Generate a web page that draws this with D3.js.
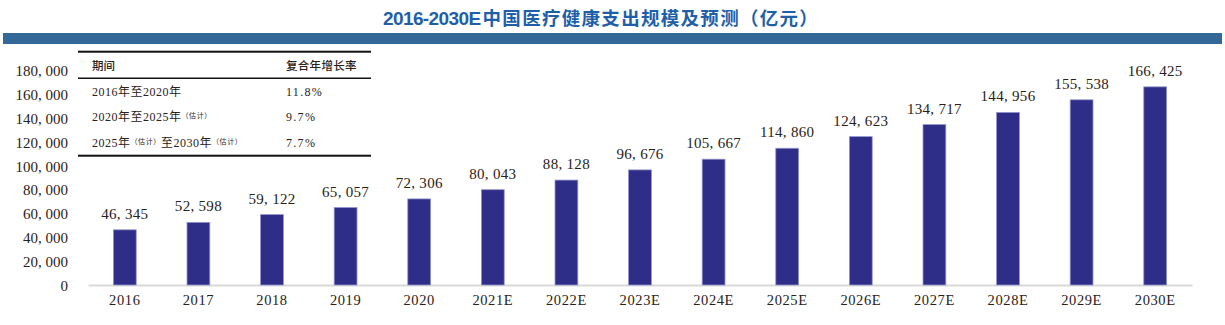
<!DOCTYPE html>
<html>
<head>
<meta charset="utf-8">
<script src="https://cdn.jsdelivr.net/npm/d3@7/dist/d3.min.js"></script>
<style>
  html, body { margin: 0; padding: 0; background: #fff; }
  svg { display: block; }
</style>
</head>
<body>
<svg id="chart" width="1225" height="325"></svg>
<script>
// Years on the category axis
const years = ["2016", "2017", "2018", "2019", "2020", "2021E", "2022E", "2023E",
  "2024E", "2025E", "2026E", "2027E", "2028E", "2029E", "2030E"];
// Health expenditure, 100 million yuan
const spending = [46345, 52598, 59122, 65057, 72306, 80043, 88128, 96676,
  105667, 114860, 124623, 134717, 144956, 155538, 166425];
// Y axis ticks
const yTicks = [0, 20000, 40000, 60000, 80000, 100000, 120000, 140000, 160000, 180000];
// CAGR table rows
const periodHeader = "期间";
const cagrHeader = "复合年增长率";
const periodParts = [
  [["2016年至2020年", false]],
  [["2020年至2025年", false], ["（估计）", true]],
  [["2025年", false], ["（估计）", true], ["至2030年", false], ["（估计）", true]]
];
const cagrValues = ["11.8%", "9.7%", "7.7%"];

const svg = d3.select("#chart");
const W = 1225;

const numFmt = v => d3.format(",")(v).replace(/,/g, ", ");
const serif = "'Liberation Serif', 'Noto Sans CJK SC', serif";
const textColor = "#2a2118";

// Title
const title = svg.append("text")
  .attr("x", 383).attr("y", 25)
  .attr("fill", "#1f5fa9")
  .attr("font-weight", "bold");
title.append("tspan")
  .attr("font-family", "'Liberation Sans', sans-serif")
  .attr("font-size", 19).attr("letter-spacing", -0.6)
  .text("2016-2030E");
title.append("tspan")
  .attr("font-family", "'Noto Sans CJK SC', sans-serif")
  .attr("font-size", 18.5).attr("letter-spacing", 1.3)
  .attr("font-weight", 600)
  .attr("dx", 2)
  .text("中国医疗健康支出规模及预测（亿元）");

// Header band
svg.append("rect")
  .attr("x", 3).attr("y", 33).attr("width", W - 6).attr("height", 11)
  .attr("fill", "#346899");

// Scales
const x = d3.scaleBand().domain(years).range([88, 1192])
  .paddingInner(0.69).paddingOuter(0.345);
const y = d3.scaleLinear().domain([0, 180000]).range([285, 70.7]);

// Y axis labels (no domain line, no ticks)
const yAxis = svg.append("g").attr("transform", "translate(68,0)")
  .call(d3.axisLeft(y).tickValues(yTicks).tickSize(0).tickPadding(0).tickFormat(numFmt));
yAxis.select(".domain").remove();
yAxis.selectAll("text")
  .attr("font-family", serif).attr("font-size", 15)
  .attr("fill", textColor).attr("dy", "0.34em");

// X axis baseline and labels
const xAxis = svg.append("g").attr("transform", "translate(0,285)")
  .call(d3.axisBottom(x).tickSize(0).tickPadding(10));
xAxis.select(".domain").attr("stroke", "#d9d9d9").attr("stroke-width", 2);
xAxis.selectAll("text")
  .attr("font-family", serif).attr("font-size", 14.5)
  .attr("letter-spacing", 0.6)
  .attr("fill", textColor);

// Bars
svg.append("g").selectAll("rect").data(spending).join("rect")
  .attr("x", (d, i) => x(years[i]))
  .attr("y", d => y(d))
  .attr("width", x.bandwidth())
  .attr("height", d => y(0) - y(d))
  .attr("fill", "#2e2e88")
  .attr("stroke", "#9494cc").attr("stroke-width", 0.8);

// Value labels
svg.append("g").selectAll("text").data(spending).join("text")
  .attr("x", (d, i) => x(years[i]) + x.bandwidth() / 2)
  .attr("y", d => y(d) - 11)
  .attr("text-anchor", "middle")
  .attr("font-family", serif).attr("font-size", 15)
  .attr("letter-spacing", 0.3)
  .attr("fill", textColor)
  .text(d => numFmt(d));

// CAGR table
const table = svg.append("g");
const tx0 = 78, tx1 = 371, col1 = 92, col2 = 286;
table.append("rect").attr("x", tx0).attr("y", 50.7).attr("width", tx1 - tx0).attr("height", 2).attr("fill", "#111");
table.append("rect").attr("x", tx0).attr("y", 77.5).attr("width", tx1 - tx0).attr("height", 1.5).attr("fill", "#111");
table.append("rect").attr("x", tx0).attr("y", 154.7).attr("width", tx1 - tx0).attr("height", 2).attr("fill", "#111");

const cjk = "'Noto Sans CJK SC', sans-serif";
table.append("text").attr("x", col1).attr("y", 69.5)
  .attr("font-family", cjk).attr("font-size", 11.5).attr("font-weight", 500)
  .attr("fill", textColor).text(periodHeader);
table.append("text").attr("x", col2).attr("y", 69.5)
  .attr("font-family", cjk).attr("font-size", 11.5).attr("font-weight", 500)
  .attr("letter-spacing", 0.3)
  .attr("fill", textColor).text(cagrHeader);

const rowY = [95.5, 120.5, 146.5];
periodParts.forEach((parts, i) => {
  const t = table.append("text").attr("x", col1).attr("y", rowY[i])
    .attr("font-family", serif).attr("fill", textColor);
  parts.forEach(([s, small]) => {
    t.append("tspan")
      .attr("font-size", small ? 7 : 12)
      .attr("baseline-shift", small ? "3" : null)
      .attr("font-family", small ? cjk : serif)
      .attr("letter-spacing", small ? 0.6 : 0.5)
      .text(s);
  });
});
table.append("g").selectAll("text").data(cagrValues).join("text")
  .attr("x", col2).attr("y", (d, i) => rowY[i])
  .attr("font-family", serif).attr("font-size", 12)
  .attr("letter-spacing", 1.3)
  .attr("fill", textColor).text(d => d);
</script>
</body>
</html>
